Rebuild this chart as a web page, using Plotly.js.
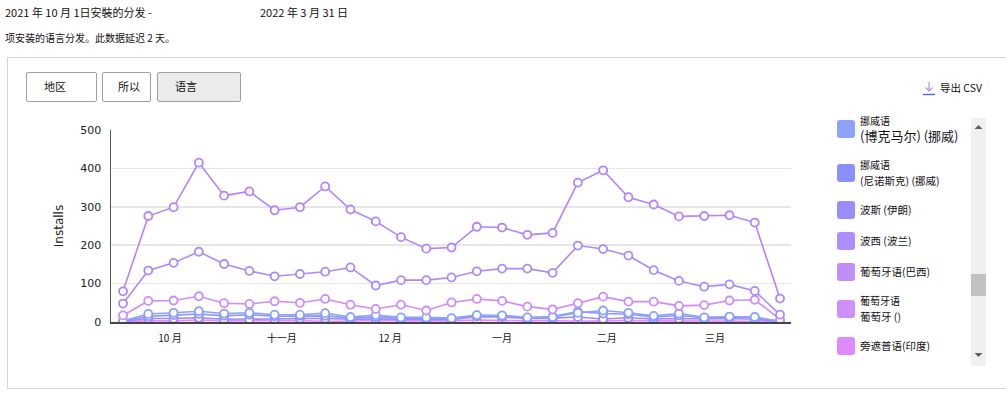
<!DOCTYPE html>
<html>
<head>
<meta charset="utf-8">
<script src="https://cdn.plot.ly/plotly-3.0.1.min.js"></script>
<style>
  html, body { margin:0; padding:0; background:#fff; width:1006px; height:397px; overflow:hidden;
    font-family:"Noto Sans CJK SC","Noto Sans",sans-serif; color:#111; }
  .abs { position:absolute; white-space:nowrap; }
  #panel { position:absolute; left:7px; top:57px; width:1010px; height:332px; border:1px solid #d4d4d4; box-sizing:border-box; }
  .btn { position:absolute; top:72px; height:30px; border:1px solid #a0a0a0; border-radius:2px; box-sizing:border-box;
    font-size:11px; line-height:26px; background:#fff; }
  .btn span { position:absolute; top:0; }
  #chart { position:absolute; left:0; top:0; width:1006px; height:397px; }
  .sw { position:absolute; left:837px; width:18px; height:18px; border-radius:3px; }
  .lt { position:absolute; left:860px; font-size:10.5px; line-height:13px; color:#111; white-space:nowrap; }
</style>
</head>
<body>
<div class="abs" style="left:5px;top:4px;font-size:11px;">2021 年 10 月 1日安裝的分发 -</div>
<div class="abs" style="left:260px;top:4px;font-size:11px;">2022 年 3 月 31 日</div>
<div class="abs" style="left:5px;top:30px;font-size:10px;">项安装的语言分发。此数据延迟 2 天。</div>
<div id="panel"></div>
<div class="btn" style="left:26px;width:71px;"><span style="left:17px;">地区</span></div>
<div class="btn" style="left:102px;width:49px;"><span style="left:15px;">所以</span></div>
<div class="btn" style="left:157px;width:84px;background:#ebebeb;"><span style="left:17px;">语言</span></div>
<div id="chart"></div>
<div id="legend"></div>
<svg class="abs" style="left:922px;top:81px;" width="14" height="15">
  <line x1="7" y1="1" x2="7" y2="10" stroke="#b48cf0" stroke-width="1.2"/>
  <polyline points="3.5,6.5 7,10 10.5,6.5" fill="none" stroke="#b48cf0" stroke-width="1.2"/>
  <line x1="1" y1="13.5" x2="13" y2="13.5" stroke="#3a6fd8" stroke-width="1.4"/>
</svg>
<div class="abs" style="left:940px;top:80px;font-size:10.5px;">导出 CSV</div>
<div class="abs" style="left:971px;top:118px;width:15px;height:248px;background:#f0f0f0;"></div>
<div class="abs" style="left:971px;top:274px;width:15px;height:22px;background:#c1c1c1;"></div>
<svg class="abs" style="left:971px;top:123px;" width="15" height="8"><polygon points="3.5,6 7.5,2 11.5,6" fill="#606060"/></svg>
<svg class="abs" style="left:971px;top:351px;" width="15" height="8"><polygon points="3.5,2 7.5,6 11.5,2" fill="#606060"/></svg>
<script>
// ---- data ----
const weeks = ['2021-10-03','2021-10-10','2021-10-17','2021-10-24','2021-10-31','2021-11-07','2021-11-14',
  '2021-11-21','2021-11-28','2021-12-05','2021-12-12','2021-12-19','2021-12-26','2022-01-02','2022-01-09',
  '2022-01-16','2022-01-23','2022-01-30','2022-02-06','2022-02-13','2022-02-20','2022-02-27','2022-03-06',
  '2022-03-13','2022-03-20','2022-03-27','2022-04-03'];
const ptBrazil   = [80,276,299,415,329,340,291,299,353,293,262,221,191,194,248,246,227,232,363,395,325,306,275,276,278,259,61];
const plPoland   = [48,134,154,183,151,133,119,125,131,142,95,109,109,116,132,139,139,128,199,190,173,135,107,92,98,81,19];
const ptPortugal = [17,55,56,67,49,47,54,50,60,45,34,45,30,51,60,55,40,33,49,66,53,53,42,44,56,58,7];
const nbNorway   = [3,21,24,28,22,24,19,19,23,13,18,12,12,10,18,17,12,13,24,30,24,16,22,12,14,13,2];
const nnNorway   = [2,15,18,21,16,19,15,16,16,10,13,9,9,9,17,16,11,14,27,22,20,13,17,11,13,12,1];
const faIran     = [1,9,9,11,7,7,8,9,9,7,8,7,6,6,14,13,9,10,13,8,11,8,9,8,9,7,1];
const paIndia    = [0,3,3,5,3,3,3,4,1,3,4,3,3,3,5,4,3,4,2,3,4,3,3,3,3,2,0];
const monthTickVals = ['2021-10-16','2021-11-16','2021-12-16','2022-01-16','2022-02-14','2022-03-16'];
const monthTickText = ['10 月','十一月','12 月','一月','二月','三月'];
const yTickVals = [0,100,200,300,400,500];

const legendItems = [
  {lines:['挪威语','(博克马尔) (挪威)'], color:'#8fa2fb'},
  {lines:['挪威语','(尼诺斯克) (挪威)'], color:'#8c8ffb'},
  {lines:['波斯 (伊朗)'], color:'#9a8cfb'},
  {lines:['波西 (波兰)'], color:'#ad8efb'},
  {lines:['葡萄牙语(巴西)'], color:'#bf8efb'},
  {lines:['葡萄牙语','葡萄牙 ()'], color:'#d18ffb'},
  {lines:['旁遮普语(印度)'], color:'#e08bfb'}
];

const series = [
  {name:'旁遮普语(印度)', y:paIndia, color:'#e08bfb'},
  {name:'波斯 (伊朗)', y:faIran, color:'#9a8cfb'},
  {name:'挪威语 (尼诺斯克) (挪威)', y:nnNorway, color:'#8c96fb'},
  {name:'挪威语 (博克马尔) (挪威)', y:nbNorway, color:'#8aa4fb'},
  {name:'葡萄牙语 葡萄牙 ()', y:ptPortugal, color:'#d08afb'},
  {name:'波西 (波兰)', y:plPoland, color:'#a98bfb'},
  {name:'葡萄牙语(巴西)', y:ptBrazil, color:'#b483fb'}
];

const traces = series.map(s => ({
  type:'scatter', mode:'lines+markers', x:weeks, y:s.y, name:s.name,
  line:{color:s.color, width:1.6},
  marker:{size:8, color:'#ffffff', line:{color:s.color, width:1.8}},
  hoverinfo:'x+y+name'
}));

const layout = {
  width:1006, height:397,
  margin:{l:111, r:215, t:130, b:75, pad:0},
  paper_bgcolor:'rgba(0,0,0,0)', plot_bgcolor:'#ffffff',
  showlegend:false,
  font:{family:'"Noto Sans CJK SC","Noto Sans",sans-serif', color:'#222', size:10},
  xaxis:{
    type:'date', range:['2021-09-29 16:00','2022-04-06 01:00'],
    tickmode:'array', tickvals:monthTickVals, ticktext:monthTickText,
    ticks:'', showgrid:false, zeroline:false,
    showline:true, linecolor:'#444', linewidth:1.5,
    tickfont:{size:10, color:'#111'}, ticklabelstandoff:6
  },
  yaxis:{
    range:[0,500], tickmode:'array', tickvals:yTickVals,
    ticks:'', showgrid:true, gridcolor:'#e6e6e6', gridwidth:1.5, zeroline:false,
    showline:true, linecolor:'#555', linewidth:1.5,
    tickfont:{size:11, color:'#222', family:'"DejaVu Sans","Noto Sans",sans-serif'}, ticklabelstandoff:6,
    title:{text:'Installs', font:{size:12, color:'#222', family:'"DejaVu Sans","Noto Sans",sans-serif'}, standoff:14}
  }
};

Plotly.newPlot('chart', traces, layout, {displayModeBar:false, staticPlot:true});

// legend (HTML)
const lg = document.getElementById('legend');
const swTops = [120,164,201,232,263,300,337];
legendItems.forEach((it, i) => {
  const sw = document.createElement('div');
  sw.className = 'sw'; sw.style.top = swTops[i] + 'px'; sw.style.background = it.color;
  lg.appendChild(sw);
  if (it.lines.length === 1) {
    const t = document.createElement('div');
    t.className = 'lt'; t.style.top = (swTops[i] + 2) + 'px'; t.textContent = it.lines[0];
    lg.appendChild(t);
  } else {
    const t1 = document.createElement('div');
    t1.className = 'lt'; t1.style.top = (swTops[i] - 5) + 'px'; t1.style.fontSize = '10px';
    t1.style.lineHeight = '12px'; t1.textContent = it.lines[0];
    lg.appendChild(t1);
    const t2 = document.createElement('div');
    t2.className = 'lt'; t2.textContent = it.lines[1];
    if (i === 0) { t2.style.fontSize = '13px'; t2.style.lineHeight = '15px'; t2.style.top = (swTops[i] + 8) + 'px'; }
    else { t2.style.top = (swTops[i] + 10) + 'px'; }
    lg.appendChild(t2);
  }
});
</script>
</body>
</html>
